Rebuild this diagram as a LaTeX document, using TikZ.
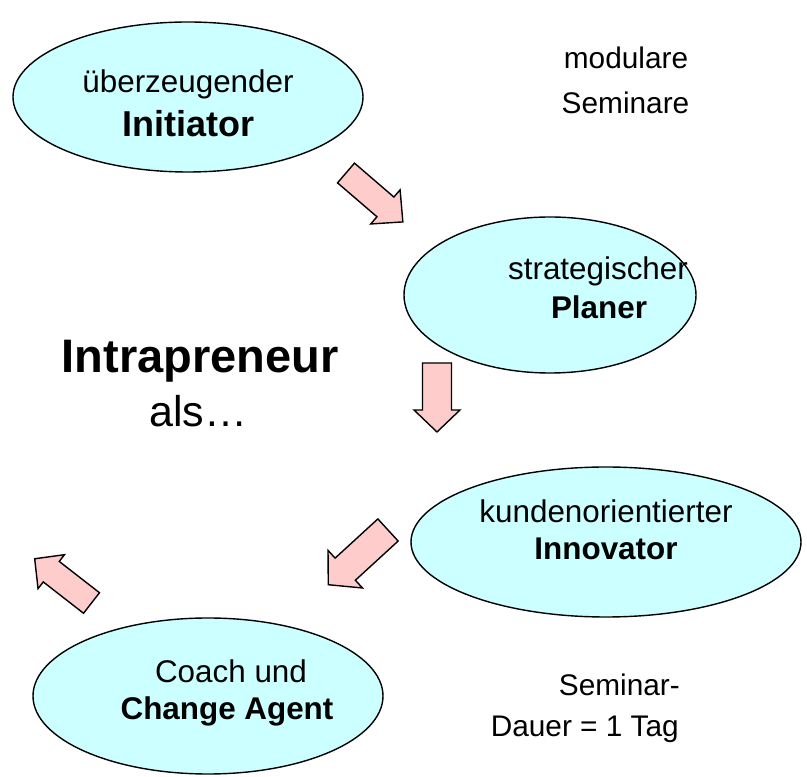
\documentclass[tikz,border=0pt]{standalone}
\usepackage{fontspec}
\setmainfont{Liberation Sans}
\usetikzlibrary{shapes.geometric}
\definecolor{ellfill}{HTML}{CCFFFF}
\definecolor{arrfill}{HTML}{FFCCCC}
\tikzset{
  ell/.style={draw=black, line width=1.4pt, fill=ellfill, ellipse, inner sep=0pt},
  blockarr/.style={draw=black, line width=1.4pt, fill=arrfill, line join=miter},
  txt/.style={inner sep=0pt, anchor=base, font=\fontsize{31.4}{38}\selectfont},
  txtb/.style={txt, font=\fontsize{31.4}{38}\selectfont\bfseries},
  side/.style={inner sep=0pt, font=\fontsize{29.8}{36}\selectfont}
}
% #1 x, #2 y, #3 angle, #4 length, #5 shaft width, #6 head width, #7 head length
\newcommand{\blockarrow}[7]{%
  \draw[blockarr, shift={(#1,#2)}, rotate=#3]
    (0,-#5/2) -- ({#4-#7},-#5/2) -- ({#4-#7},-#6/2) -- (#4,0)
    -- ({#4-#7},#6/2) -- ({#4-#7},#5/2) -- (0,#5/2) -- cycle;}
\begin{document}
\begin{tikzpicture}[x=1pt,y=1pt]
\useasboundingbox (0,0) rectangle (807,777);
% ellipses
\node[ell, minimum width=350pt, minimum height=150pt] (e1) at (188,680) {};
\node[ell, minimum width=292pt, minimum height=156pt] (e2) at (550,482) {};
\node[ell, minimum width=390pt, minimum height=150pt] (e3) at (606,235) {};
\node[ell, minimum width=350pt, minimum height=156pt] (e4) at (208,81) {};
% ellipse texts
\node[txt] (t1a) at (188,684) {überzeugender};
\node[txtb, font=\fontsize{36}{42}\selectfont\bfseries] (t1b) at (188,640) {Initiator};
\node[txt] (t2a) at (598,497) {strategischer};
\node[txtb] (t2b) at (599,458) {Planer};
\node[txt] (t3a) at (606,254) {kundenorientierter};
\node[txtb] (t3b) at (606,217) {Innovator};
\node[txt] (t4a) at (231,94) {Coach und};
\node[txtb] (t4b) at (227,57) {Change Agent};
% title
\node[inner sep=0pt, anchor=base, font=\fontsize{47}{52}\selectfont\bfseries] (title) at (200,404) {Intrapreneur};
\node[inner sep=0pt, anchor=base, font=\fontsize{43}{48}\selectfont] (als) at (198.5,350) {als…};
% side notes
\node[side, anchor=base] (m1) at (626,708) {modulare};
\node[side, anchor=base] (m2) at (625.5,663) {Seminare};
\node[side, anchor=base east] (s1) at (680,81) {Seminar-};
\node[side, anchor=base east] (s2) at (679,40) {Dauer = 1 Tag};
% block arrows
\blockarrow{346}{604}{-40.7}{75}{26}{45}{23}
\blockarrow{437}{414}{-90}{69}{29}{46}{22}
\blockarrow{388}{247}{222.5}{81}{30}{51}{23}
\blockarrow{91.5}{174}{142.1}{72}{26}{43}{21}
\end{tikzpicture}
\end{document}
